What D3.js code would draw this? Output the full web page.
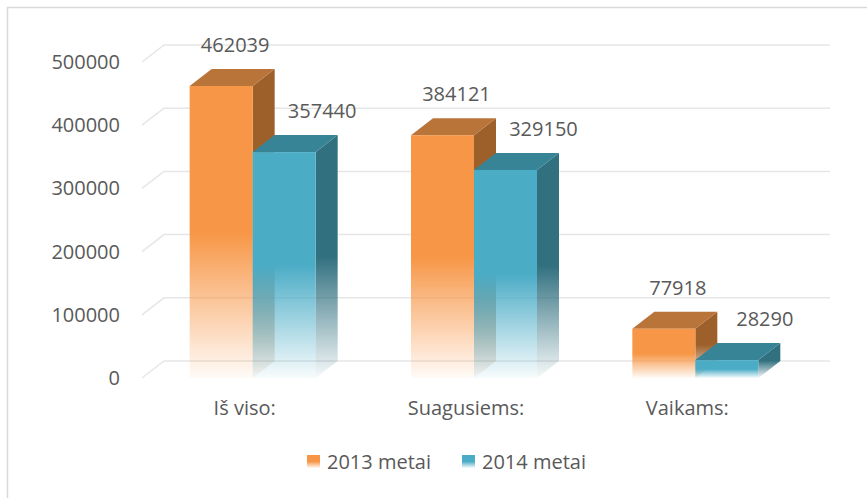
<!DOCTYPE html>
<html>
<head>
<meta charset="utf-8">
<script src="https://cdn.jsdelivr.net/npm/d3@7"></script>
<style>
  body { margin: 0; background: #fff; }
  text { font-family: "Open Sans", sans-serif; fill: #595959; }
</style>
</head>
<body>
<svg id="chart" width="867" height="498"></svg>
<script>
let categories = ["Iš viso:", "Suagusiems:", "Vaikams:"]
let series = ["2013 metai", "2014 metai"]
let values2013 = [462039, 384121, 77918]
let values2014 = [357440, 329150, 28290]
let yTicks = [0, 100000, 200000, 300000, 400000, 500000]

let colors = {
  "2013 metai": { front: "#F79646", side: "#9E602B", top: "#B9743A" },
  "2014 metai": { front: "#4BACC6", side: "#31707F", top: "#378497" }
}
let labelShift = { "2013 metai": 14, "2014 metai": 38 }

let dx = 22, dy = -17
let svg = d3.select("#chart")

// outer frame
svg.append("rect").attr("x", 7.5).attr("y", 7.5).attr("width", 900).attr("height", 600)
  .style("fill", "none").style("stroke", "#d9d9d9").style("stroke-width", 1.5)

let y = d3.scaleLinear().domain([0, 500000]).range([378, 62])
let x = d3.scaleBand().domain(categories).range([142, 806])
let xs = d3.scaleBand().domain(series)
  .range([x.bandwidth() / 2 - 63, x.bandwidth() / 2 + 63])

// gradients
let defs = svg.append("defs")
series.forEach((s, i) => {
  ["front", "side"].forEach(face => {
    let g = defs.append("linearGradient").attr("id", `g${i}${face}`)
      .attr("x1", 0).attr("y1", 0).attr("x2", 0).attr("y2", 1)
    g.append("stop").attr("offset", 0).attr("stop-color", colors[s][face]).attr("stop-opacity", 1)
    g.append("stop").attr("offset", 0.5).attr("stop-color", colors[s][face]).attr("stop-opacity", 1)
    g.append("stop").attr("offset", 1).attr("stop-color", colors[s][face]).attr("stop-opacity", 0.04)
  })
})

// gridlines: floor diagonal + back wall
let grid = svg.append("g")
yTicks.forEach(v => {
  grid.append("path")
    .attr("d", `M142,${y(v)}L${142 + dx},${y(v) + dy}L830,${y(v) + dy}`)
    .style("fill", "none").style("stroke", "#e6e6e6").style("stroke-width", 1.5)
})

// y axis labels
let yAxis = svg.append("g").attr("transform", "translate(120,0)")
  .call(d3.axisLeft(y).tickValues(yTicks).tickSize(0).tickPadding(0).tickFormat(d3.format("d")))
yAxis.select(".domain").remove()
yAxis.selectAll("text").style("font-size", "20px").style("fill", "#595959")
  .style("font-family", "'Open Sans', sans-serif")

// category labels
let xAxis = svg.append("g").attr("transform", "translate(-8,401)")
  .call(d3.axisBottom(x).tickSize(0).tickPadding(0))
xAxis.select(".domain").remove()
xAxis.selectAll("text").style("font-size", "20px").style("fill", "#595959")
  .style("font-family", "'Open Sans', sans-serif")

// bars
let rows = categories.map((c, i) => [
  { cat: c, s: series[0], v: values2013[i], si: 0 },
  { cat: c, s: series[1], v: values2014[i], si: 1 }
]).flat()

let bars = svg.append("g").selectAll("g.bar").data(rows).enter()
  .append("g").classed("bar", true)

let x0 = d => x(d.cat) + xs(d.s)
let x1 = d => x0(d) + xs.bandwidth()

bars.append("path")
  .attr("d", d => `M${x1(d)},${y(d.v)}L${x1(d) + dx},${y(d.v) + dy}L${x1(d) + dx},${y(0) + dy}L${x1(d)},${y(0)}Z`)
  .style("fill", d => `url(#g${d.si}side)`)
bars.append("path")
  .attr("d", d => `M${x0(d)},${y(d.v)}L${x0(d) + dx},${y(d.v) + dy}L${x1(d) + dx},${y(d.v) + dy}L${x1(d)},${y(d.v)}Z`)
  .style("fill", d => colors[d.s].top)
bars.append("rect")
  .attr("x", x0).attr("y", d => y(d.v))
  .attr("width", xs.bandwidth()).attr("height", d => y(0) - y(d.v))
  .style("fill", d => `url(#g${d.si}front)`)

// data labels
svg.append("g").selectAll("text").data(rows).enter().append("text")
  .attr("x", d => (x0(d) + x1(d)) / 2 + labelShift[d.s])
  .attr("y", d => y(d.v) + dy - 17)
  .attr("text-anchor", "middle")
  .style("font-size", "20px")
  .text(d => d.v)

// legend
let legend = svg.append("g").selectAll("g").data(series).enter().append("g")
  .attr("transform", (d, i) => `translate(${307 + i * 155},455)`)
legend.append("rect").attr("width", 13).attr("height", 13)
  .style("fill", (d, i) => `url(#g${i}front)`)
legend.append("text").attr("x", 20).attr("y", 7).attr("dy", "0.35em")
  .style("font-size", "20px").text(d => d)
</script>
</body>
</html>
